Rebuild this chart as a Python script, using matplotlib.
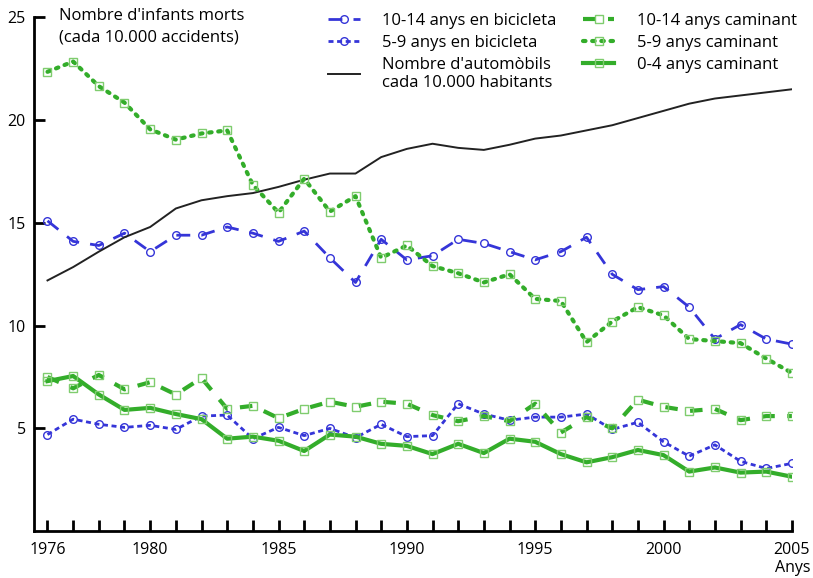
import matplotlib.pyplot as plt
from matplotlib.legend_handler import HandlerLine2D

plt.rcParams['font.family'] = ['Open Sans', 'DejaVu Sans']

years = list(range(1976, 2006))

# infants morts cada 10.000 accidents
bici_10_14 = [15.1, 14.1, 13.9, 14.5, 13.6, 14.4, 14.4, 14.8, 14.5, 14.1,
              14.6, 13.3, 12.1, 14.2, 13.2, 13.4, 14.2, 14.0, 13.6, 13.2,
              13.6, 14.3, 12.5, 11.75, 11.9, 10.9, 9.35, 10.05, 9.35, 9.1]
bici_5_9 = [4.7, 5.45, 5.2, 5.05, 5.15, 4.95, 5.6, 5.65, 4.5, 5.05,
            4.65, 5.0, 4.55, 5.2, 4.6, 4.65, 6.2, 5.7, 5.4, 5.55,
            5.55, 5.7, 4.95, 5.3, 4.35, 3.65, 4.2, 3.4, 3.05, 3.3]
cami_10_14 = [7.5, 6.95, 7.6, 6.9, 7.25, 6.65, 7.45, 5.95, 6.1, 5.5,
              5.95, 6.3, 6.05, 6.3, 6.2, 5.65, 5.35, 5.6, 5.35, 6.2,
              4.8, 5.55, 5.0, 6.4, 6.05, 5.85, 5.95, 5.4, 5.6, 5.6]
cami_5_9 = [22.35, 22.85, 21.65, 20.85, 19.55, 19.05, 19.35, 19.5, 16.85, 15.5,
            17.15, 15.55, 16.3, 13.3, 13.9, 12.9, 12.55, 12.1, 12.5, 11.3,
            11.2, 9.2, 10.2, 10.9, 10.5, 9.35, 9.25, 9.15, 8.4, 7.7]
cami_0_4 = [7.3, 7.55, 6.65, 5.9, 6.0, 5.7, 5.45, 4.5, 4.6, 4.4,
            3.9, 4.7, 4.6, 4.25, 4.15, 3.75, 4.25, 3.8, 4.5, 4.35,
            3.75, 3.35, 3.6, 3.95, 3.7, 2.9, 3.1, 2.85, 2.9, 2.65]
# automobils cada 10.000 habitants
cotxes = [12.2, 12.85, 13.6, 14.3, 14.8, 15.7, 16.1, 16.3, 16.45, 16.75,
          17.1, 17.4, 17.4, 18.2, 18.6, 18.85, 18.65, 18.55, 18.8, 19.1,
          19.25, 19.5, 19.75, 20.1, 20.45, 20.8, 21.05, 21.2, 21.35, 21.5]

blue = '#3535d8'
green = '#33ad2a'
sq_green = '#7fcc6e'


class EndMarker(HandlerLine2D):
    # marker at the right end of the legend line
    def get_xdata(self, legend, xdescent, ydescent, width, height, fontsize):
        return [-xdescent, -xdescent + width], [-xdescent + width]


fig = plt.figure(figsize=(8.13, 5.78), dpi=100)
ax = fig.add_axes([0.042, 0.081, 0.932, 0.889])

circ = dict(marker='o', markersize=5.5, markerfacecolor='none',
            markeredgecolor=blue, markeredgewidth=1.0)
sq = dict(marker='s', markersize=5.5, markerfacecolor='none',
          markeredgecolor=sq_green, markeredgewidth=1.0)

l1, = ax.plot(years, bici_10_14, color=blue, lw=2, dashes=(5, 4),
              label='10-14 anys en bicicleta', **circ)
l2, = ax.plot(years, bici_5_9, color=blue, lw=2, dashes=(1.8, 1.3),
              label='5-9 anys en bicicleta', **circ)
l3, = ax.plot(years, cotxes, color='#222222', lw=1.4,
              label="Nombre d'automòbils\ncada 10.000 habitants")
l4, = ax.plot(years, cami_10_14, color=green, lw=3, dashes=(3, 3),
              label='10-14 anys caminant', **sq)
l5, = ax.plot(years, cami_5_9, color=green, lw=3, dashes=(0.6, 1.6),
              dash_capstyle='round', label='5-9 anys caminant', **sq)
l6, = ax.plot(years, cami_0_4, color=green, lw=3,
              label='0-4 anys caminant', **sq)

ax.set_xlim(1975.48, 2005)
ax.set_ylim(0, 25)
ax.set_xticks(range(1976, 2006))
ax.set_xticklabels([str(y) if y in (1976, 1980, 1985, 1990, 1995, 2000, 2005) else ''
                    for y in range(1976, 2006)])
ax.set_yticks([5, 10, 15, 20, 25])
ax.tick_params(direction='in', length=8, width=2, labelsize=11.5, pad=6)
ax.tick_params(axis='x', pad=8)
for s in ['top', 'right']:
    ax.spines[s].set_visible(False)
for s in ['left', 'bottom']:
    ax.spines[s].set_linewidth(2)

ax.text(0.033, 1.018, "Nombre d'infants morts\n(cada 10.000 accidents)",
        transform=ax.transAxes, fontsize=12, va='top', ha='left', linespacing=1.45)

leg = ax.legend(handles=[l1, l2, l3, l4, l5, l6], ncol=2, fontsize=12,
                loc='upper left', bbox_to_anchor=(0.379, 1.022), frameon=False,
                handlelength=1.9, handletextpad=1.35, columnspacing=1.57,
                labelspacing=0.36, borderaxespad=0,
                handler_map={plt.Line2D: EndMarker()})

fig.text(0.997, 0.004, 'Anys', fontsize=11.5, ha='right', va='bottom')

plt.savefig('out.png', dpi=100)
